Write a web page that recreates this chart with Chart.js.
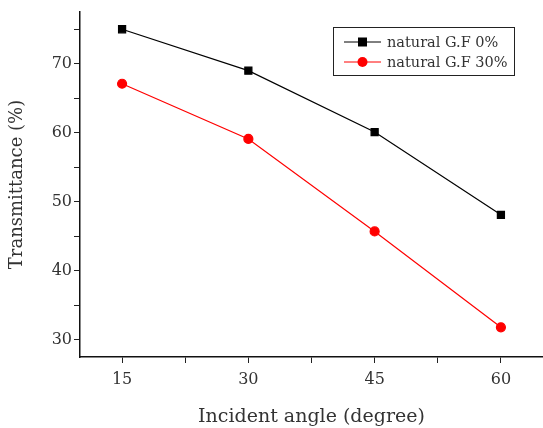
<!DOCTYPE html>
<html>
<head>
<meta charset="utf-8">
<script src="https://cdn.jsdelivr.net/npm/chart.js@4"></script>
<style>
  html, body { margin: 0; padding: 0; background: #fff; overflow: hidden; }
  #wrap { width: 543px; height: 428px; position: relative; }
</style>
</head>
<body>
<div id="wrap"><canvas id="chart"></canvas></div>
<script>
// data
const angles = [15, 30, 45, 60];
const gf0 = [75.0, 69.0, 60.1, 48.1];
const gf30 = [67.1, 59.1, 45.7, 31.8];
const seriesNames = ["natural G.F 0%", "natural G.F 30%"];
const xTicks = [15, 22.5, 30, 37.5, 45, 52.5, 60];
const yTicks = [30, 35, 40, 45, 50, 55, 60, 65, 70, 75];

const FONT = "'DejaVu Serif', serif";
const TEXT = "#333";

function toPoints(values) {
  return angles.map((a, i) => ({ x: a, y: values[i] }));
}

// legend box drawn inside the plot, top right
const boxLegend = {
  id: "boxLegend",
  afterDraw(chart) {
    const ctx = chart.ctx;
    const x = 333, y = 27, w = 181, h = 48;
    ctx.save();
    ctx.fillStyle = "#fff";
    ctx.fillRect(x, y, w, h);
    ctx.strokeStyle = "#222";
    ctx.lineWidth = 1;
    ctx.strokeRect(x + 0.5, y + 0.5, w, h);
    chart.data.datasets.forEach((ds, i) => {
      const ry = y + 15 + i * 20;
      ctx.strokeStyle = ds.borderColor;
      ctx.lineWidth = 1;
      ctx.beginPath();
      ctx.moveTo(344, ry);
      ctx.lineTo(381, ry);
      ctx.stroke();
      ctx.fillStyle = ds.pointBackgroundColor;
      if (ds.pointStyle === "rect") {
        ctx.fillRect(358, ry - 4.5, 9, 9);
      } else {
        ctx.beginPath();
        ctx.arc(362.5, ry, 5, 0, Math.PI * 2);
        ctx.fill();
      }
      ctx.fillStyle = TEXT;
      ctx.font = "14.5px " + FONT;
      ctx.textBaseline = "middle";
      ctx.fillText(ds.label, 387, ry + 1);
    });
    ctx.restore();
  },
};

new Chart(document.getElementById("chart"), {
  type: "line",
  data: {
    datasets: [
      {
        label: seriesNames[0],
        data: toPoints(gf0),
        borderColor: "#000",
        backgroundColor: "#000",
        pointBackgroundColor: "#000",
        pointBorderColor: "#000",
        pointStyle: "rect",
        pointRadius: 5,
        borderWidth: 1.2,
        tension: 0,
      },
      {
        label: seriesNames[1],
        data: toPoints(gf30),
        borderColor: "#ff0000",
        backgroundColor: "#ff0000",
        pointBackgroundColor: "#ff0000",
        pointBorderColor: "#ff0000",
        pointStyle: "circle",
        pointRadius: 4.5,
        borderWidth: 1.2,
        tension: 0,
      },
    ],
  },
  options: {
    responsive: true,
    maintainAspectRatio: false,
    animation: false,
    layout: { autoPadding: false, padding: { top: 12, right: 0, left: 0, bottom: 0 } },
    plugins: {
      legend: { display: false },
      tooltip: { enabled: false },
    },
    scales: {
      x: {
        type: "linear",
        min: 10,
        max: 65,
        afterBuildTicks: (scale) => {
          scale.ticks = xTicks.map((v) => ({ value: v }));
        },
        afterFit: (scale) => {
          scale.height = 71;
        },
        ticks: {
          autoSkip: false,
          maxRotation: 0,
          padding: 7,
          color: TEXT,
          font: { family: FONT, size: 16 },
          callback: (v) => (v % 15 === 0 ? v : ""),
        },
        grid: {
          drawOnChartArea: false,
          drawTicks: true,
          tickLength: 6,
          tickColor: "#222",
        },
        border: { display: true, color: "#111", width: 1.5 },
        title: {
          display: true,
          text: "Incident angle (degree)",
          color: TEXT,
          font: { family: FONT, size: 19 },
          padding: { top: 0, bottom: 0 },
        },
      },
      y: {
        min: 27.5,
        max: 77.5,
        afterBuildTicks: (scale) => {
          scale.ticks = yTicks.map((v) => ({ value: v }));
        },
        afterFit: (scale) => {
          scale.width = 80;
        },
        ticks: {
          autoSkip: false,
          padding: 2,
          color: TEXT,
          font: { family: FONT, size: 16 },
          callback: (v) => (v % 10 === 0 ? v : ""),
        },
        grid: {
          drawOnChartArea: false,
          drawTicks: true,
          tickLength: 6,
          tickColor: "#222",
        },
        border: { display: true, color: "#111", width: 1.5 },
        title: {
          display: true,
          text: "Transmittance (%)",
          color: TEXT,
          font: { family: FONT, size: 18 },
          padding: { top: 7, bottom: 0 },
        },
      },
    },
  },
  plugins: [boxLegend],
});
</script>
</body>
</html>
